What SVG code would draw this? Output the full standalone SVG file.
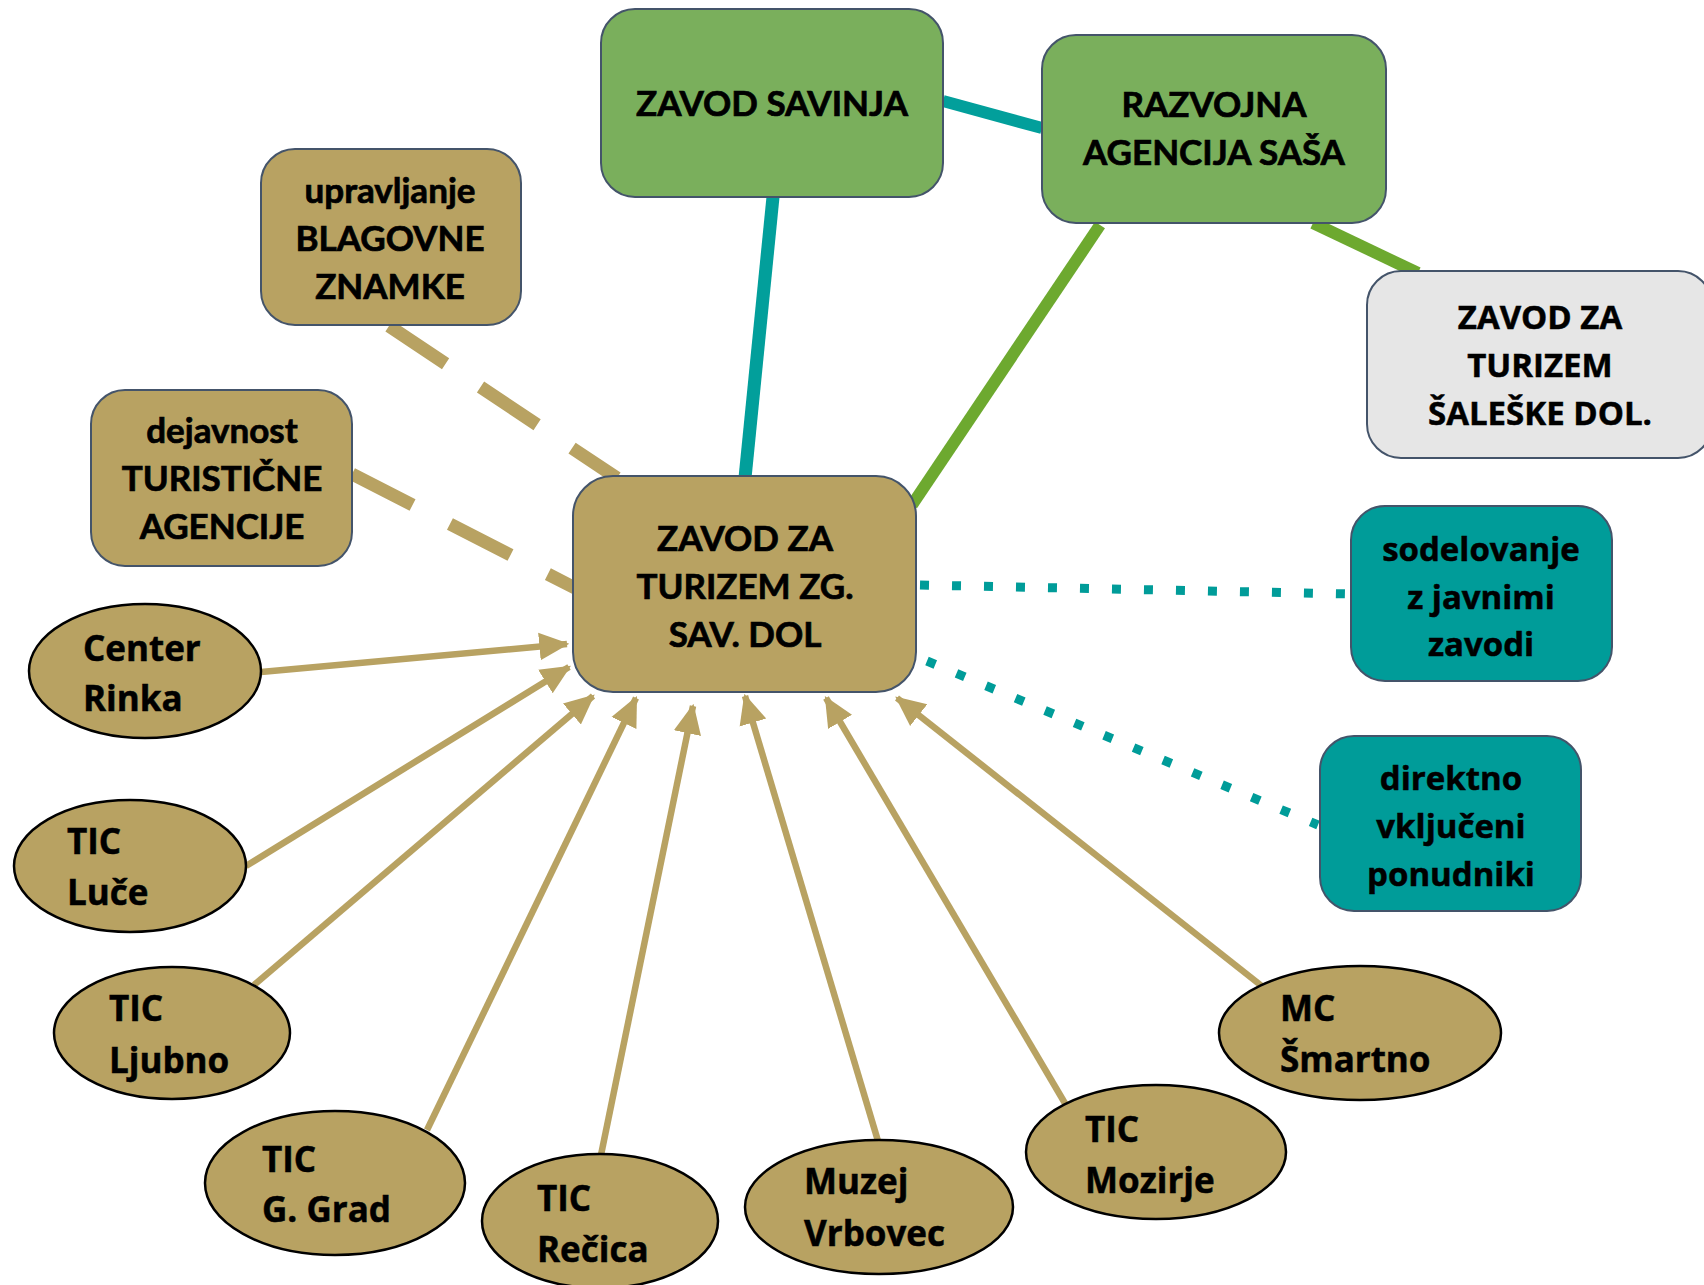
<svg xmlns="http://www.w3.org/2000/svg" width="1704" height="1285" viewBox="0 0 1704 1285">
<defs>
<style>
.box{stroke:#44546A;stroke-width:2}
.green{fill:#7AAF5C}
.tan{fill:#B8A262}
.teal{fill:#009C99}
.gray{fill:#E6E6E6}
.ell{fill:#B8A262;stroke:#000;stroke-width:2.5}
.t1{font-family:Lato,"Liberation Sans",sans-serif;font-weight:bold;font-size:35px;fill:#000;stroke:#000;stroke-width:0.7;text-anchor:middle}
.t2{font-family:"Open Sans","Liberation Sans",sans-serif;font-weight:bold;font-size:33px;fill:#000;stroke:#000;stroke-width:0.5;text-anchor:middle}
.t3{font-family:"Open Sans","Liberation Sans",sans-serif;font-weight:bold;font-size:35px;fill:#000;stroke:#000;stroke-width:0.5}
.arr{stroke:#B8A262;stroke-width:6.5;fill:none;marker-end:url(#ah)}
.dash{stroke:#B8A262;stroke-width:13;fill:none;stroke-dasharray:68 42}
.dot{stroke:#009C99;stroke-width:9;fill:none;stroke-dasharray:9 23}
</style>
<marker id="ah" markerUnits="userSpaceOnUse" markerWidth="30" markerHeight="30" viewBox="0 0 26 24" refX="24" refY="12" orient="auto">
<path d="M0,0 L26,12 L0,24 Z" fill="#B8A262"/>
</marker>
</defs>
<g id="connectors">
<line x1="943" y1="101" x2="1042" y2="128" stroke="#029F9B" stroke-width="12"/>
<line x1="773" y1="197" x2="745" y2="478" stroke="#029F9B" stroke-width="13"/>
<line x1="1100" y1="225" x2="912" y2="505" stroke="#6DA92F" stroke-width="12"/>
<line x1="1313" y1="223" x2="1418" y2="273" stroke="#6DA92F" stroke-width="12"/>
<line class="dash" x1="389" y1="326" x2="617" y2="478"/>
<line class="dash" x1="352" y1="474" x2="575" y2="588"/>
<line class="dot" x1="920" y1="585" x2="1351" y2="594"/>
<line class="dot" x1="927" y1="661" x2="1318" y2="825"/>
<line class="arr" x1="261" y1="672" x2="567" y2="644"/>
<line class="arr" x1="246" y1="866" x2="569" y2="667"/>
<line class="arr" x1="254" y1="985" x2="593" y2="696"/>
<line class="arr" x1="427" y1="1130" x2="636" y2="698"/>
<line class="arr" x1="601" y1="1155" x2="693" y2="706"/>
<line class="arr" x1="878" y1="1141" x2="745" y2="696"/>
<line class="arr" x1="1066" y1="1105" x2="826" y2="698"/>
<line class="arr" x1="1263" y1="987" x2="897" y2="698"/>
</g>
<g id="n-savinja">
<rect class="box green" x="601" y="9" width="342" height="188" rx="34"/>
<text class="t1" x="772" y="116">ZAVOD SAVINJA</text>
</g>
<g id="n-razvojna">
<rect class="box green" x="1042" y="35" width="344" height="188" rx="34"/>
<text class="t1" x="1214" y="117">RAZVOJNA</text>
<text class="t1" x="1214" y="165">AGENCIJA SAŠA</text>
</g>
<g id="n-saleske">
<rect class="box gray" x="1367" y="271" width="345" height="187" rx="34"/>
<text class="t2" x="1540" y="329">ZAVOD ZA</text>
<text class="t2" x="1540" y="377">TURIZEM</text>
<text class="t2" x="1540" y="425">ŠALEŠKE DOL.</text>
</g>
<g id="n-upravljanje">
<rect class="box tan" x="261" y="149" width="260" height="176" rx="34"/>
<text class="t1" x="390" y="203">upravljanje</text>
<text class="t1" x="390" y="251">BLAGOVNE</text>
<text class="t1" x="390" y="299">ZNAMKE</text>
</g>
<g id="n-dejavnost">
<rect class="box tan" x="91" y="390" width="261" height="176" rx="34"/>
<text class="t1" x="222" y="443">dejavnost</text>
<text class="t1" x="222" y="491">TURISTIČNE</text>
<text class="t1" x="222" y="539">AGENCIJE</text>
</g>
<g id="n-center">
<rect class="box tan" x="573" y="476" width="343" height="216" rx="40"/>
<text class="t1" x="745" y="551">ZAVOD ZA</text>
<text class="t1" x="745" y="599">TURIZEM ZG.</text>
<text class="t1" x="745" y="647">SAV. DOL</text>
</g>
<g id="n-sodelovanje">
<rect class="box teal" x="1351" y="506" width="261" height="175" rx="34"/>
<text class="t2" x="1481" y="561">sodelovanje</text>
<text class="t2" x="1481" y="609">z javnimi</text>
<text class="t2" x="1481" y="656">zavodi</text>
</g>
<g id="n-direktno">
<rect class="box teal" x="1320" y="736" width="261" height="175" rx="34"/>
<text class="t2" x="1451" y="790">direktno</text>
<text class="t2" x="1451" y="838">vključeni</text>
<text class="t2" x="1451" y="886">ponudniki</text>
</g>
<g id="n-rinka">
<ellipse class="ell" cx="145" cy="671" rx="116" ry="67"/>
<text class="t3" x="83" y="661">Center</text>
<text class="t3" x="83" y="711">Rinka</text>
</g>
<g id="n-luce">
<ellipse class="ell" cx="130" cy="866" rx="116" ry="66"/>
<text class="t3" x="67" y="854">TIC</text>
<text class="t3" x="67" y="905">Luče</text>
</g>
<g id="n-ljubno">
<ellipse class="ell" cx="172" cy="1033" rx="118" ry="66"/>
<text class="t3" x="109" y="1021">TIC</text>
<text class="t3" x="109" y="1073">Ljubno</text>
</g>
<g id="n-ggrad">
<ellipse class="ell" cx="335" cy="1183" rx="130" ry="72"/>
<text class="t3" x="262" y="1172">TIC</text>
<text class="t3" x="262" y="1222">G. Grad</text>
</g>
<g id="n-recica">
<ellipse class="ell" cx="600" cy="1221" rx="118" ry="67"/>
<text class="t3" x="537" y="1211">TIC</text>
<text class="t3" x="537" y="1262">Rečica</text>
</g>
<g id="n-vrbovec">
<ellipse class="ell" cx="879" cy="1207" rx="134" ry="67"/>
<text class="t3" x="804" y="1194">Muzej</text>
<text class="t3" x="804" y="1246">Vrbovec</text>
</g>
<g id="n-mozirje">
<ellipse class="ell" cx="1156" cy="1152" rx="130" ry="67"/>
<text class="t3" x="1085" y="1142">TIC</text>
<text class="t3" x="1085" y="1193">Mozirje</text>
</g>
<g id="n-smartno">
<ellipse class="ell" cx="1360" cy="1033" rx="141" ry="67"/>
<text class="t3" x="1280" y="1021">MC</text>
<text class="t3" x="1280" y="1072">Šmartno</text>
</g>
</svg>
